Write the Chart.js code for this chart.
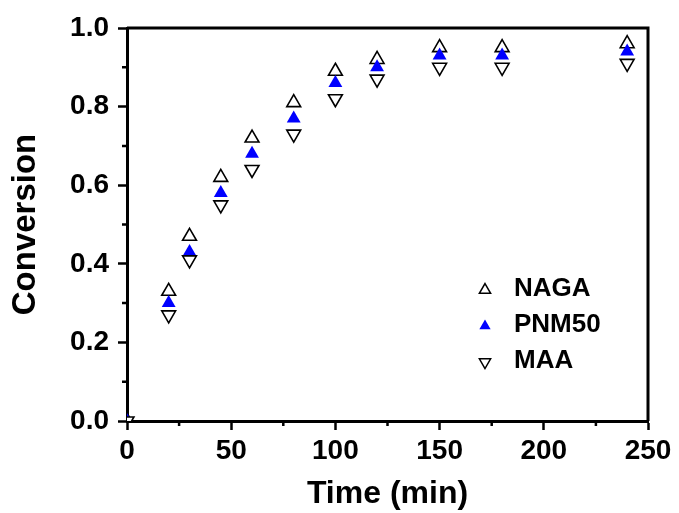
<!DOCTYPE html>
<html>
<head>
<meta charset="utf-8">
<script src="https://cdn.jsdelivr.net/npm/chart.js@4/dist/chart.umd.min.js"></script>
<style>
  html, body { margin: 0; padding: 0; background: #fff; }
  #wrap { width: 679px; height: 513px; }
</style>
</head>
<body>
<div id="wrap"><canvas id="conversionChart" width="679" height="513"></canvas></div>
<script>
// Reaction time (min) and monomer conversion for each system
const times = [0, 20, 30, 45, 60, 80, 100, 120, 150, 180, 240];
const nagaConv = [0, 0.33, 0.47, 0.62, 0.72, 0.81, 0.89, 0.92, 0.95, 0.95, 0.96];
const pnm50Conv = [0, 0.30, 0.43, 0.58, 0.68, 0.77, 0.86, 0.90, 0.93, 0.93, 0.94];
const maaConv = [0, 0.27, 0.41, 0.55, 0.64, 0.73, 0.82, 0.87, 0.90, 0.90, 0.91];
const seriesNames = ['NAGA', 'PNM50', 'MAA'];

const FONT = "'Liberation Sans', Arial, sans-serif";

function toPoints(ys) {
    return times.map((t, i) => ({ x: t, y: ys[i] }));
}

function triangle(ctx, cx, cy, r, down) {
    const s = down ? -1 : 1;
    ctx.beginPath();
    for (let k = 0; k < 3; k++) {
        const a = k * 2 * Math.PI / 3;
        const px = cx + Math.sin(a) * r * s;
        const py = cy - Math.cos(a) * r * s;
        if (k === 0) ctx.moveTo(px, py); else ctx.lineTo(px, py);
    }
    ctx.closePath();
}

// Closes the frame on the top and right sides
const frame = {
    id: 'frame',
    afterDraw(chart) {
        const { ctx, chartArea: a } = chart;
        ctx.save();
        ctx.strokeStyle = '#000';
        ctx.lineWidth = 3;
        ctx.beginPath();
        ctx.moveTo(a.left, a.top);
        ctx.lineTo(a.right, a.top);
        ctx.lineTo(a.right, a.bottom);
        ctx.stroke();
        ctx.restore();
    }
};

// Short ticks halfway between the labelled ones
const minorTicks = {
    id: 'minorTicks',
    afterDraw(chart) {
        const { ctx, chartArea: a, scales: { x, y } } = chart;
        ctx.save();
        ctx.strokeStyle = '#000';
        ctx.lineWidth = 2.5;
        ctx.beginPath();
        for (let i = 1; i < x.ticks.length; i++) {
            const px = x.getPixelForValue((x.ticks[i - 1].value + x.ticks[i].value) / 2);
            ctx.moveTo(px, a.bottom);
            ctx.lineTo(px, a.bottom + 5);
        }
        for (let i = 1; i < y.ticks.length; i++) {
            const py = y.getPixelForValue((y.ticks[i - 1].value + y.ticks[i].value) / 2);
            ctx.moveTo(a.left, py);
            ctx.lineTo(a.left - 5, py);
        }
        ctx.stroke();
        ctx.restore();
    }
};

// Legend sitting inside the plot, lower right
const innerLegend = {
    id: 'innerLegend',
    afterDraw(chart) {
        const { ctx, chartArea: a } = chart;
        const textX = a.right - 134;
        const markX = a.right - 163;
        let baseY = a.bottom - 125;
        ctx.save();
        ctx.font = 'bold 26px ' + FONT;
        ctx.textBaseline = 'alphabetic';
        ctx.textAlign = 'left';
        chart.data.datasets.forEach(ds => {
            triangle(ctx, markX, baseY - 6, 6.5, ds.rotation === 180);
            ctx.fillStyle = ds.backgroundColor;
            ctx.fill();
            if (ds.borderWidth > 0) {
                ctx.strokeStyle = ds.borderColor;
                ctx.lineWidth = 1.5;
                ctx.stroke();
            }
            ctx.fillStyle = '#000';
            ctx.fillText(ds.label, textX, baseY);
            baseY += 36;
        });
        ctx.restore();
    }
};

new Chart(document.getElementById('conversionChart'), {
    type: 'scatter',
    data: {
        datasets: [
            {
                label: seriesNames[0],
                data: toPoints(nagaConv),
                pointStyle: 'triangle',
                rotation: 0,
                pointRadius: 8,
                backgroundColor: '#ffffff',
                borderColor: '#000000',
                borderWidth: 1.6,
                order: 3,
                clip: 0
            },
            {
                label: seriesNames[1],
                data: toPoints(pnm50Conv),
                pointStyle: 'triangle',
                rotation: 0,
                pointRadius: 8,
                backgroundColor: '#0000ff',
                borderColor: '#0000ff',
                borderWidth: 0,
                order: 2,
                clip: 0
            },
            {
                label: seriesNames[2],
                data: toPoints(maaConv),
                pointStyle: 'triangle',
                rotation: 180,
                pointRadius: 8,
                backgroundColor: '#ffffff',
                borderColor: '#000000',
                borderWidth: 1.6,
                order: 1,
                clip: 0
            }
        ]
    },
    options: {
        responsive: false,
        animation: false,
        layout: { padding: { top: 28, right: 31, left: 0, bottom: 0 } },
        scales: {
            x: {
                type: 'linear',
                min: 0,
                max: 250,
                ticks: {
                    stepSize: 50,
                    color: '#000',
                    padding: 4,
                    maxRotation: 0,
                    font: { family: FONT, size: 28, weight: 'bold' }
                },
                grid: {
                    drawOnChartArea: false,
                    tickLength: 9,
                    tickWidth: 2.5,
                    tickColor: '#000'
                },
                border: { color: '#000', width: 3 },
                title: {
                    display: true,
                    text: 'Time (min)',
                    color: '#000',
                    padding: { top: 0, bottom: 0 },
                    font: { family: FONT, size: 32, weight: 'bold' }
                },
                afterFit(scale) { scale.height = 92; }
            },
            y: {
                min: 0,
                max: 1,
                ticks: {
                    stepSize: 0.2,
                    color: '#000',
                    padding: 9,
                    font: { family: FONT, size: 28, weight: 'bold' },
                    callback: v => v.toFixed(1)
                },
                grid: {
                    drawOnChartArea: false,
                    tickLength: 9,
                    tickWidth: 2.5,
                    tickColor: '#000'
                },
                border: { color: '#000', width: 3 },
                title: {
                    display: true,
                    text: 'Conversion',
                    color: '#000',
                    padding: { top: 6, bottom: 0 },
                    font: { family: FONT, size: 33, weight: 'bold' }
                },
                afterFit(scale) { scale.width = 127; }
            }
        },
        plugins: {
            legend: { display: false },
            tooltip: { enabled: false }
        }
    },
    plugins: [frame, minorTicks, innerLegend]
});
</script>
</body>
</html>
